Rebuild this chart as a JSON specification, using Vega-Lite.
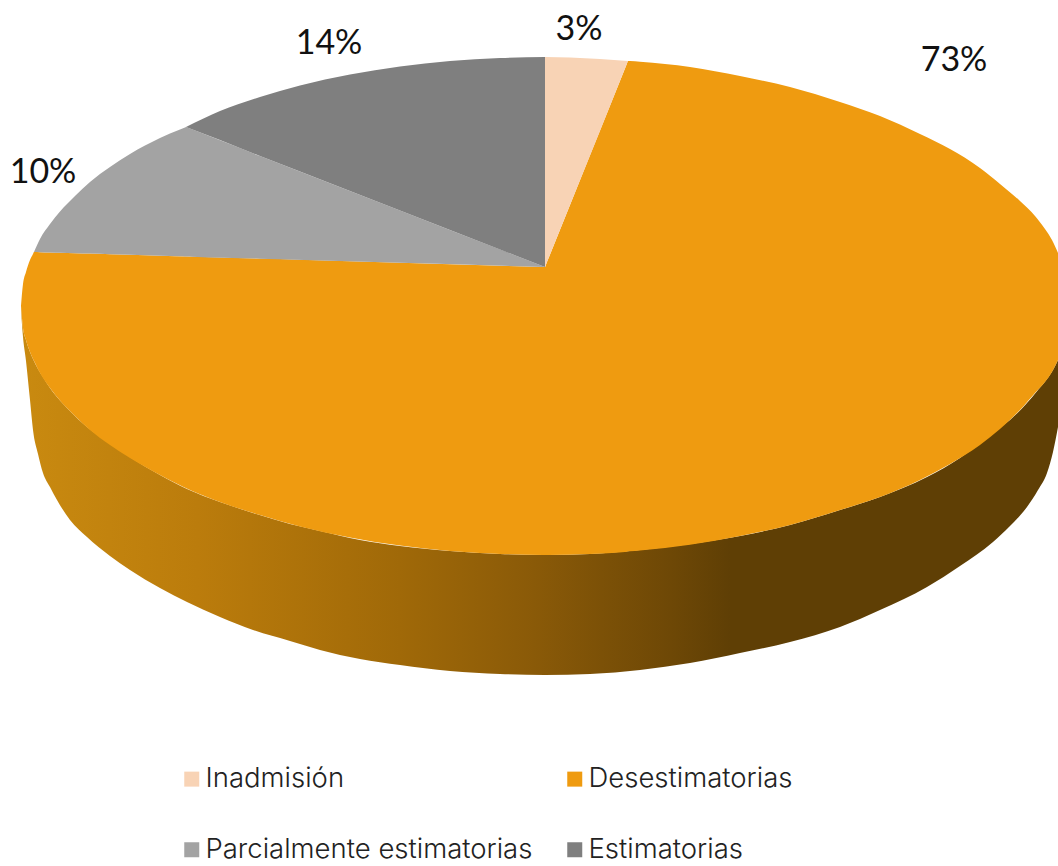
{
"$schema":"https://vega.github.io/schema/vega-lite/v6.json",
"width":1058,"height":866,"padding":0,
"autosize":{"type":"none"},
"background":"white",
"config":{"view":{"stroke":null}},
"datasets":{
"lateral":[
{"x":21,"y":306,"y2":310},{"x":23,"y":328,"y2":337},{"x":26,"y":340,"y2":361},{"x":30,"y":352,"y2":400},{"x":33,"y":359,"y2":430},{"x":38,"y":369,"y2":454},{"x":43,"y":377,"y2":473},{"x":50,"y":388,"y2":487},{"x":57,"y":397,"y2":500},{"x":70,"y":411,"y2":520},{"x":87,"y":427,"y2":537},{"x":110,"y":443,"y2":556},{"x":130,"y":457,"y2":570},{"x":160,"y":475,"y2":588},{"x":187,"y":489,"y2":602},{"x":220,"y":502,"y2":617},{"x":253,"y":513,"y2":630},{"x":290,"y":524,"y2":641},{"x":320,"y":531,"y2":650},{"x":360,"y":540,"y2":659},{"x":400,"y":546,"y2":665},{"x":450,"y":551,"y2":671},{"x":500,"y":554,"y2":674},{"x":545,"y":555,"y2":675},{"x":590,"y":554,"y2":674},{"x":640,"y":550,"y2":670},{"x":690,"y":544,"y2":663},{"x":740,"y":536,"y2":653},{"x":790,"y":525,"y2":642},{"x":840,"y":510,"y2":627},{"x":880,"y":497,"y2":610},{"x":927,"y":477,"y2":587},{"x":960,"y":458,"y2":566},{"x":993,"y":432,"y2":542},{"x":1010,"y":420,"y2":526},{"x":1027,"y":403,"y2":507},{"x":1038,"y":390,"y2":490},{"x":1047,"y":379,"y2":473},{"x":1053,"y":370,"y2":452},{"x":1058,"y":360,"y2":427}
],
"sectores":[
{"Categoria":"Desestimatorias","x":21,"y":306,"y2":306},{"Categoria":"Desestimatorias","x":23,"y":284,"y2":328},{"Categoria":"Desestimatorias","x":26,"y":272,"y2":340},{"Categoria":"Desestimatorias","x":30,"y":260,"y2":352},{"Categoria":"Desestimatorias","x":33,"y":254,"y2":359},{"Categoria":"Desestimatorias","x":34,"y":252,"y2":361},{"Categoria":"Desestimatorias","x":40,"y":252.2,"y2":373},{"Categoria":"Desestimatorias","x":50,"y":252.5,"y2":388},{"Categoria":"Desestimatorias","x":60,"y":252.8,"y2":400.5},{"Categoria":"Desestimatorias","x":75,"y":253.2,"y2":416},{"Categoria":"Desestimatorias","x":90,"y":253.6,"y2":430},{"Categoria":"Desestimatorias","x":110,"y":254.2,"y2":445},{"Categoria":"Desestimatorias","x":130,"y":254.8,"y2":458},{"Categoria":"Desestimatorias","x":160,"y":255.7,"y2":475},{"Categoria":"Desestimatorias","x":190,"y":256.6,"y2":490},{"Categoria":"Desestimatorias","x":220,"y":257.5,"y2":502},{"Categoria":"Desestimatorias","x":260,"y":258.6,"y2":515},{"Categoria":"Desestimatorias","x":300,"y":259.8,"y2":526.5},{"Categoria":"Desestimatorias","x":350,"y":261.3,"y2":537.5},{"Categoria":"Desestimatorias","x":400,"y":262.7,"y2":545.6},{"Categoria":"Desestimatorias","x":450,"y":264.2,"y2":551},{"Categoria":"Desestimatorias","x":500,"y":265.7,"y2":554},{"Categoria":"Desestimatorias","x":543,"y":266.9,"y2":555},{"Categoria":"Desestimatorias","x":545,"y":267,"y2":555},{"Categoria":"Desestimatorias","x":546.5,"y":263.3,"y2":555},{"Categoria":"Desestimatorias","x":548,"y":259.6,"y2":555},{"Categoria":"Desestimatorias","x":590,"y":155.3,"y2":554},{"Categoria":"Desestimatorias","x":625,"y":68.5,"y2":552},{"Categoria":"Desestimatorias","x":627,"y":63.5,"y2":551.7},{"Categoria":"Desestimatorias","x":628,"y":61,"y2":551.5},{"Categoria":"Desestimatorias","x":630,"y":61.1,"y2":551.3},{"Categoria":"Desestimatorias","x":640,"y":61.7,"y2":550.5},{"Categoria":"Desestimatorias","x":690,"y":67,"y2":544.7},{"Categoria":"Desestimatorias","x":740,"y":76,"y2":536},{"Categoria":"Desestimatorias","x":790,"y":87,"y2":525},{"Categoria":"Desestimatorias","x":840,"y":102,"y2":510},{"Categoria":"Desestimatorias","x":880,"y":116,"y2":497},{"Categoria":"Desestimatorias","x":920,"y":134,"y2":480},{"Categoria":"Desestimatorias","x":950,"y":149,"y2":464},{"Categoria":"Desestimatorias","x":980,"y":168,"y2":445},{"Categoria":"Desestimatorias","x":1000,"y":184,"y2":429},{"Categoria":"Desestimatorias","x":1020,"y":201,"y2":410},{"Categoria":"Desestimatorias","x":1035,"y":216,"y2":393},{"Categoria":"Desestimatorias","x":1045,"y":229,"y2":382},{"Categoria":"Desestimatorias","x":1052,"y":240,"y2":372},{"Categoria":"Desestimatorias","x":1058,"y":253,"y2":360},
{"Categoria":"Parcialmente estimatorias","x":34,"y":252,"y2":252},{"Categoria":"Parcialmente estimatorias","x":40,"y":239,"y2":252.2},{"Categoria":"Parcialmente estimatorias","x":50,"y":224,"y2":252.5},{"Categoria":"Parcialmente estimatorias","x":60,"y":211.5,"y2":252.8},{"Categoria":"Parcialmente estimatorias","x":75,"y":196,"y2":253.2},{"Categoria":"Parcialmente estimatorias","x":90,"y":182,"y2":253.6},{"Categoria":"Parcialmente estimatorias","x":110,"y":167,"y2":254.2},{"Categoria":"Parcialmente estimatorias","x":130,"y":154,"y2":254.8},{"Categoria":"Parcialmente estimatorias","x":160,"y":138,"y2":255.7},{"Categoria":"Parcialmente estimatorias","x":180,"y":129.5,"y2":256.3},{"Categoria":"Parcialmente estimatorias","x":185,"y":127.5,"y2":256.4},{"Categoria":"Parcialmente estimatorias","x":186,"y":127,"y2":256.5},{"Categoria":"Parcialmente estimatorias","x":188,"y":127.8,"y2":256.5},{"Categoria":"Parcialmente estimatorias","x":192,"y":129.3,"y2":256.7},{"Categoria":"Parcialmente estimatorias","x":260,"y":156,"y2":258.7},{"Categoria":"Parcialmente estimatorias","x":400,"y":210.5,"y2":262.8},{"Categoria":"Parcialmente estimatorias","x":545,"y":267,"y2":267},
{"Categoria":"Estimatorias","x":186,"y":127,"y2":127},{"Categoria":"Estimatorias","x":220,"y":111,"y2":140},{"Categoria":"Estimatorias","x":260,"y":97,"y2":156},{"Categoria":"Estimatorias","x":300,"y":85.5,"y2":171.5},{"Categoria":"Estimatorias","x":350,"y":74.5,"y2":191},{"Categoria":"Estimatorias","x":400,"y":66.4,"y2":210.5},{"Categoria":"Estimatorias","x":450,"y":61,"y2":230},{"Categoria":"Estimatorias","x":500,"y":58,"y2":249.5},{"Categoria":"Estimatorias","x":545,"y":57,"y2":267},
{"Categoria":"Inadmisión","x":545,"y":57,"y2":267},{"Categoria":"Inadmisión","x":570,"y":57.5,"y2":205},{"Categoria":"Inadmisión","x":600,"y":59,"y2":131},{"Categoria":"Inadmisión","x":628,"y":61,"y2":61}
],
"etiquetas":[
{"Categoria":"Inadmisión","porcentaje":3,"Etiqueta":"3%","x":579,"y":30},
{"Categoria":"Desestimatorias","porcentaje":73,"Etiqueta":"73%","x":954,"y":61},
{"Categoria":"Parcialmente estimatorias","porcentaje":10,"Etiqueta":"10%","x":43,"y":173},
{"Categoria":"Estimatorias","porcentaje":14,"Etiqueta":"14%","x":329,"y":44}
]
},
"layer":[
{"data":{"name":"lateral"},
"mark":{"type":"area","orient":"vertical","interpolate":"monotone","color":{"gradient":"linear","x1":0,"x2":1,"y1":0,"y2":0,"stops":[{"offset":0,"color":"#C98A10"},{"offset":0.17,"color":"#BB7C0C"},{"offset":0.365,"color":"#A06908"},{"offset":0.494,"color":"#8A5A08"},{"offset":0.626,"color":"#6E4806"},{"offset":0.684,"color":"#5F3F05"},{"offset":1,"color":"#5F3F05"}]}},
"encoding":{
"x":{"field":"x","type":"quantitative","axis":null,"scale":{"domain":[0,1058],"nice":false,"zero":false}},
"y":{"field":"y","type":"quantitative","axis":null,"stack":null,"scale":{"domain":[866,0],"nice":false,"zero":false}},
"y2":{"field":"y2"}}},
{"data":{"name":"sectores"},
"mark":{"type":"area","orient":"vertical","interpolate":"monotone"},
"encoding":{
"x":{"field":"x","type":"quantitative","axis":null,"scale":{"domain":[0,1058],"nice":false,"zero":false}},
"y":{"field":"y","type":"quantitative","axis":null,"stack":null,"scale":{"domain":[866,0],"nice":false,"zero":false}},
"y2":{"field":"y2"},
"color":{"field":"Categoria","type":"nominal",
"scale":{"domain":["Inadmisión","Parcialmente estimatorias","Desestimatorias","Estimatorias"],"range":["#F8D3B5","#A3A3A3","#EF9B10","#7F7F7F"]},
"legend":{"title":null,"orient":"none","legendX":178,"legendY":765,"columns":2,"rowPadding":42,"columnPadding":28,"symbolType":"square","symbolSize":225,"symbolOpacity":1,"symbolStrokeWidth":0,"labelFont":"Inter","labelFontSize":27.5,"labelFontWeight":300,"labelColor":"#222222","labelOffset":0,"labelLimit":500}}}},
{"data":{"name":"etiquetas"},
"mark":{"type":"text","font":"Lato","fontSize":34,"color":"#111111","align":"center","baseline":"middle"},
"encoding":{
"x":{"field":"x","type":"quantitative","axis":null,"scale":{"domain":[0,1058],"nice":false,"zero":false}},
"y":{"field":"y","type":"quantitative","axis":null,"scale":{"domain":[866,0],"nice":false,"zero":false}},
"text":{"field":"Etiqueta","type":"nominal"}}}
]
}
